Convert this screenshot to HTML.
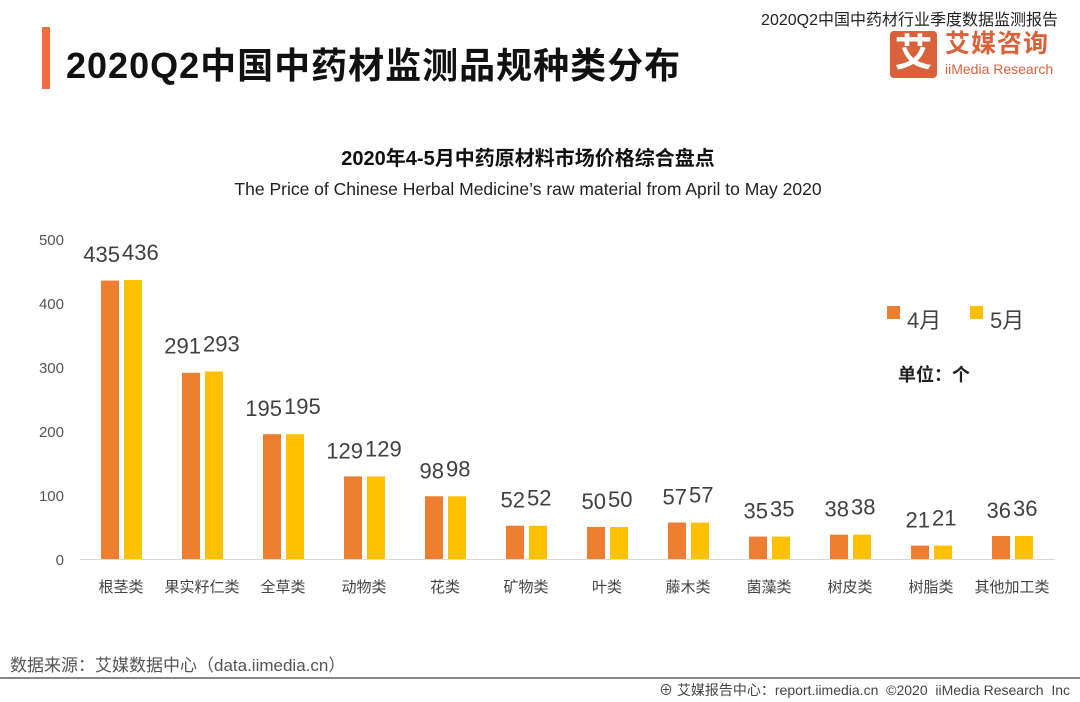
<!DOCTYPE html>
<html><head><meta charset="utf-8"><style>
body{margin:0;width:1080px;height:702px;background:#fff;overflow:hidden;font-family:"Liberation Sans","Noto Sans CJK SC",sans-serif;position:relative}
.a{position:absolute;white-space:nowrap}
</style></head><body>
<div class="a" style="right:22px;top:6px;font-size:16px;color:#222">2020Q2中国中药材行业季度数据监测报告</div>
<div class="a" style="left:42px;top:27px;width:8px;height:62px;background:#ef6c3b"></div>
<div class="a" style="left:66px;top:37px;font-size:36px;letter-spacing:1px;font-weight:bold;color:#111">2020Q2中国中药材监测品规种类分布</div>
<div class="a" style="left:890px;top:31px;width:47px;height:47px;background:#d9623a;border-radius:4px;color:#fff;font-size:38px;font-weight:bold;line-height:47px;text-align:center">艾</div>
<div class="a" style="left:945px;top:29px;font-size:25px;line-height:30px;font-weight:bold;color:#d9623a;letter-spacing:1px">艾媒咨询</div>
<div class="a" style="left:945px;top:61px;font-size:14px;line-height:17px;color:#d9623a">iiMedia Research</div>
<div class="a" style="left:0;width:1056px;text-align:center;top:142px;font-size:20px;font-weight:bold;color:#111">2020年4-5月中药原材料市场价格综合盘点</div>
<div class="a" style="left:0;width:1056px;text-align:center;top:179px;font-size:17.5px;color:#222">The Price of Chinese Herbal Medicine’s raw material from April to May 2020</div>
<svg class="a" style="left:0;top:0" width="1080" height="702">
<g id="g"></g>
<rect x="887" y="306" width="13" height="13" fill="#ed7d31"/>
<text x="907" y="328" font-size="22" fill="#444">4月</text>
<rect x="970" y="306" width="13" height="13" fill="#ffc000"/>
<text x="990" y="328" font-size="22" fill="#444">5月</text>
<text x="898" y="381" font-size="18" font-weight="bold" fill="#222">单位：个</text>
</svg>
<div class="a" style="left:10px;top:651px;font-size:17px;color:#555">数据来源：艾媒数据中心（data.iimedia.cn）</div>
<div class="a" style="left:0;top:677px;width:1080px;height:2px;background:#888"></div>
<div class="a" style="right:10px;top:680px;font-size:14px;color:#444">⊕ 艾媒报告中心：report.iimedia.cn &nbsp;©2020 &nbsp;iiMedia Research &nbsp;Inc</div>
<script>
const categories=["根茎类","果实籽仁类","全草类","动物类","花类","矿物类","叶类","藤木类","菌藻类","树皮类","树脂类","其他加工类"];
const april=[435,291,195,129,98,52,50,57,35,38,21,36];
const may=[436,293,195,129,98,52,50,57,35,38,21,36];
const ticks=[0,100,200,300,400,500];
const NS="http://www.w3.org/2000/svg",g=document.getElementById('g');
const y=v=>559-v*0.64, cx=i=>121+i*81;
function mk(t,a,txt){const e=document.createElementNS(NS,t);for(const k in a)e.setAttribute(k,a[k]);if(txt!==undefined)e.textContent=txt;g.appendChild(e);return e;}
let ax=mk('line',{x1:80,x2:1055,y1:559.5,y2:559.5,stroke:'#d9d9d9','stroke-width':1});


ticks.forEach(t=>{const e=mk('text',{x:64,y:y(t)+6,'text-anchor':'end','font-size':15,fill:'#555'},t);

});
categories.forEach((c,i)=>{
 const x=cx(i);
 const b1=mk('rect',{x:x-20,y:y(april[i]),width:18,height:april[i]*0.64,fill:'#ed7d31'});
 
 
 const b2=mk('rect',{x:x+3,y:y(may[i]),width:18,height:may[i]*0.64,fill:'#ffc000'});
 
 
 const top=Math.min(y(april[i]),y(may[i]));
 const l1=mk('text',{x:x-1,y:top-18,'text-anchor':'end','font-size':22,fill:'#404040'},april[i]);
 
 
 const l2=mk('text',{x:x+1,y:top-20,'text-anchor':'start','font-size':22,fill:'#404040'},may[i]);
 
 
 const cl=mk('text',{x:x,y:592,'text-anchor':'middle','font-size':15,fill:'#444'},c);
 
 
});
</script>
</body></html>
